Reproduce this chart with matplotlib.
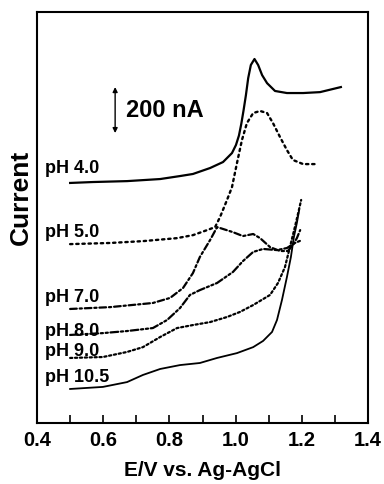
import matplotlib
matplotlib.use("Agg")
import matplotlib.pyplot as plt
from matplotlib.ticker import MultipleLocator

plt.rcParams['font.family'] = ['Liberation Sans', 'DejaVu Sans']
plt.rcParams['font.weight'] = 'bold'

# potential (V) and current (nA, curves stacked with offsets)
e_ph4 = [0.500, 0.569, 0.672, 0.772, 0.832, 0.871, 0.923, 0.962, 0.989, 1.001, 1.010, 1.017, 1.024,
         1.031, 1.038, 1.046, 1.057, 1.068, 1.080, 1.095, 1.119, 1.155, 1.204, 1.255, 1.318]
i_ph4 = [1044, 1048, 1052, 1061, 1074, 1083, 1109, 1135, 1174, 1209, 1250, 1300, 1360,
         1425, 1500, 1557, 1583, 1557, 1513, 1478, 1444, 1435, 1435, 1439, 1461]

e_ph5 = [0.500, 0.621, 0.720, 0.823, 0.871, 0.914, 0.938, 0.953, 0.974, 0.989, 1.004, 1.019,
         1.034, 1.053, 1.074, 1.095, 1.113, 1.134, 1.155, 1.173, 1.204, 1.249]
i_ph5 = [778, 783, 791, 804, 817, 839, 852, 896, 970, 1026, 1130, 1230,
         1304, 1348, 1357, 1348, 1304, 1244, 1187, 1144, 1126, 1126]

e_ph7 = [0.500, 0.621, 0.750, 0.802, 0.841, 0.871, 0.892, 0.923, 0.944, 0.953, 0.992, 1.022,
         1.053, 1.074, 1.104, 1.134, 1.158, 1.173, 1.185, 1.195]
i_ph7 = [496, 504, 522, 544, 587, 652, 722, 796, 852, 848, 830, 813,
         822, 804, 765, 748, 748, 774, 804, 839]

e_ph8 = [0.500, 0.599, 0.672, 0.750, 0.793, 0.832, 0.862, 0.892, 0.944, 0.992, 1.022, 1.053,
         1.083, 1.125, 1.155, 1.179, 1.201]
i_ph8 = [383, 391, 400, 413, 448, 500, 557, 578, 609, 657, 704, 744,
         757, 752, 761, 783, 796]

e_ph9 = [0.500, 0.599, 0.672, 0.720, 0.772, 0.823, 0.871, 0.923, 0.974, 1.013, 1.053, 1.104,
         1.128, 1.149, 1.164, 1.179, 1.189, 1.198]
i_ph9 = [283, 287, 309, 330, 374, 413, 426, 439, 461, 483, 513, 557,
         609, 678, 765, 852, 913, 970]

e_ph105 = [0.500, 0.599, 0.672, 0.720, 0.772, 0.832, 0.892, 0.944, 1.004, 1.053, 1.083, 1.110,
           1.125, 1.140, 1.155, 1.167, 1.176, 1.185, 1.192]
i_ph105 = [148, 157, 178, 209, 235, 252, 261, 283, 304, 330, 357, 396,
           448, 535, 635, 722, 809, 870, 926]

labels = ['pH 4.0', 'pH 5.0', 'pH 7.0', 'pH 8.0', 'pH 9.0', 'pH 10.5']
label_i = [1087, 809, 526, 378, 291, 178]

fig = plt.figure(figsize=(3.84, 4.84), dpi=100)
ax = fig.add_axes([0.0964, 0.126, 0.862, 0.849])

ax.plot(e_ph4, i_ph4, color='k', lw=1.6, solid_joinstyle='round')
ax.plot(e_ph5, i_ph5, color='k', lw=1.7, dashes=(1, 1.6), dash_capstyle='round')
ax.plot(e_ph7, i_ph7, color='k', lw=1.6, dashes=(3, 1.3, 1, 1.3), dash_capstyle='round')
ax.plot(e_ph8, i_ph8, color='k', lw=1.6, dashes=(3.5, 1.2, 1, 1.2, 1, 1.2), dash_capstyle='round')
ax.plot(e_ph9, i_ph9, color='k', lw=1.6, dashes=(1, 1.2), dash_capstyle='round')
ax.plot(e_ph105, i_ph105, color='k', lw=1.3, solid_joinstyle='round')

for lab, yv in zip(labels, label_i):
    ax.text(0.424, yv, lab, fontsize=13, fontweight='bold', va='baseline', ha='left')

# 200 nA scale bar
ax.annotate('', xy=(0.636, 1461), xytext=(0.636, 1261),
            arrowprops=dict(arrowstyle='<|-|>', lw=1.0, color='k', mutation_scale=7,
                            shrinkA=0, shrinkB=0))
ax.text(0.669, 1361, '200 nA', fontsize=17, fontweight='bold', va='center', ha='left')

ax.set_xlim(0.4, 1.4)
ax.set_ylim(0, 1787)
ax.xaxis.set_major_locator(MultipleLocator(0.2))
ax.xaxis.set_minor_locator(MultipleLocator(0.1))
ax.xaxis.set_major_formatter(plt.FuncFormatter(lambda v, p: '%.1f' % v))
ax.tick_params(axis='x', which='both', direction='in', length=5.5, width=1.2, labelsize=14.5, pad=6)
ax.set_yticks([])
for s in ax.spines.values():
    s.set_linewidth(1.5)

ax.set_xlabel('E/V vs. Ag-AgCl', fontsize=15, fontweight='bold', labelpad=8)
ax.set_ylabel('Current', fontsize=19, fontweight='bold')
ax.yaxis.set_label_coords(-0.012, 0.55)

fig.savefig('out.png', dpi=100)
